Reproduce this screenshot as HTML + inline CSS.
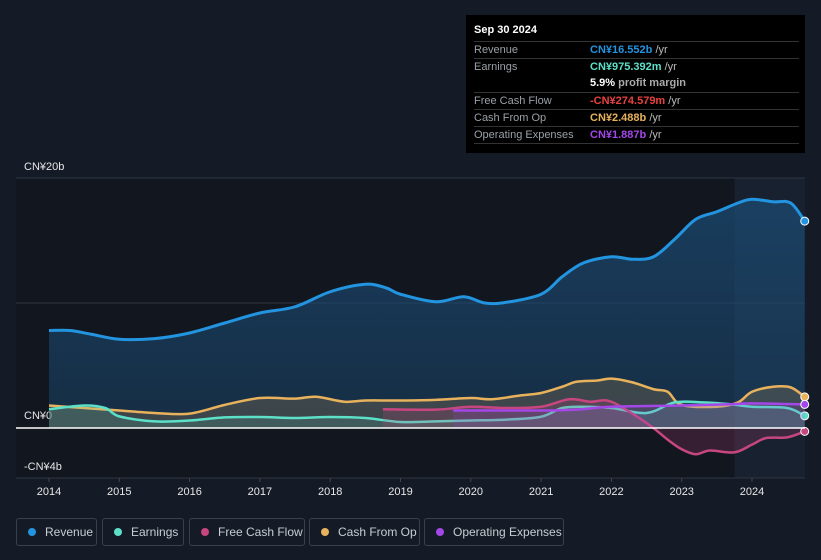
<!DOCTYPE html>
<html><head><meta charset="utf-8">
<style>
body{margin:0;background:#151b26;width:821px;height:560px;overflow:hidden;font-family:"Liberation Sans",sans-serif;}
#wrap{position:relative;width:821px;height:560px;}
.tip{position:absolute;left:466px;top:15px;width:339px;height:138px;background:#000;color:#ccc;font-size:11px;}
.tip .row{position:absolute;left:8px;right:6px;height:17px;border-top:1px solid #333;}
.tip .l{position:absolute;left:0;top:2px;color:#9aa0a6;}
.tip .v{position:absolute;left:116px;top:2px;font-weight:bold;}
.tip .u{color:#bbb;font-weight:normal;}
.leg{position:absolute;top:518px;height:28px;border:1px solid #3a404b;border-radius:3px;color:#c8ccd2;font-size:12px;box-sizing:border-box;line-height:26px;}
.leg i{position:absolute;left:11px;top:9px;width:8px;height:8px;border-radius:50%;}
.leg span{position:absolute;left:28px;}
</style></head><body><div id="wrap">
<svg id="chart" width="821" height="500" style="position:absolute;left:0;top:0"></svg>
<div class="tip">
<div style="position:absolute;left:8px;top:9px;color:#fff;font-weight:bold;font-size:11px">Sep 30 2024</div>
<div class="row" style="top:26px"><span class="l">Revenue</span><span class="v" style="color:#2394df">CN¥16.552b <span class="u">/yr</span></span></div>
<div class="row" style="top:43px"><span class="l">Earnings</span><span class="v" style="color:#5ce0c8">CN¥975.392m <span class="u">/yr</span></span></div>
<div class="row" style="top:60px;border-top:none"><span class="v" style="color:#fff">5.9% <span class="u" style="font-weight:bold;color:#aaa">profit margin</span></span></div>
<div class="row" style="top:77px"><span class="l">Free Cash Flow</span><span class="v" style="color:#e8423f">-CN¥274.579m <span class="u">/yr</span></span></div>
<div class="row" style="top:94px"><span class="l">Cash From Op</span><span class="v" style="color:#e8b25c">CN¥2.488b <span class="u">/yr</span></span></div>
<div class="row" style="top:111px"><span class="l">Operating Expenses</span><span class="v" style="color:#a447e8">CN¥1.887b <span class="u">/yr</span></span></div>
<div class="row" style="top:128px;height:0"></div>
</div>
<div class="leg" style="left:16px;width:81px"><i style="background:#2394df"></i><span>Revenue</span></div>
<div class="leg" style="left:102px;width:82px"><i style="background:#5ce0c8"></i><span>Earnings</span></div>
<div class="leg" style="left:189px;width:116px"><i style="background:#c84680"></i><span>Free Cash Flow</span></div>
<div class="leg" style="left:309px;width:111px"><i style="background:#e8b25c"></i><span>Cash From Op</span></div>
<div class="leg" style="left:424px;width:140px"><i style="background:#a447e8"></i><span>Operating Expenses</span></div>
</div>
<script>
const revT=[2014,2014.3,2014.6,2015,2015.5,2016,2016.5,2017,2017.5,2018,2018.5,2018.8,2019,2019.5,2019.9,2020.2,2020.5,2021,2021.3,2021.6,2022,2022.3,2022.6,2022.9,2023.2,2023.5,2023.8,2024,2024.3,2024.55,2024.75];
const revV=[7.8,7.8,7.5,7.1,7.15,7.6,8.4,9.2,9.7,10.9,11.5,11.2,10.7,10.1,10.5,10.0,10.05,10.7,12.1,13.2,13.7,13.5,13.7,15.1,16.7,17.3,18.0,18.3,18.1,18.0,16.55];
const earT=[2014,2014.5,2014.8,2015,2015.5,2016,2016.5,2017,2017.5,2018,2018.5,2019,2019.5,2020,2020.5,2021,2021.3,2021.6,2022,2022.5,2022.9,2023.3,2023.7,2024,2024.5,2024.75];
const earV=[1.5,1.8,1.6,0.93,0.53,0.6,0.85,0.88,0.8,0.88,0.8,0.48,0.53,0.6,0.67,0.9,1.6,1.7,1.6,1.2,2.05,2.05,1.9,1.7,1.6,0.975];
const fcfT=[2018.75,2019.5,2020,2020.5,2021,2021.4,2021.7,2022,2022.5,2022.8,2023.0,2023.2,2023.4,2023.75,2024.0,2024.2,2024.5,2024.75];
const fcfV=[1.5,1.47,1.7,1.6,1.7,2.3,2.1,2.1,0.4,-0.93,-1.7,-2.1,-1.8,-1.95,-1.33,-0.8,-0.75,-0.27];
const cfoT=[2014,2014.5,2015,2015.5,2016,2016.5,2017,2017.5,2017.8,2018.2,2018.5,2019,2019.5,2020,2020.3,2020.7,2021,2021.3,2021.5,2021.8,2022,2022.3,2022.6,2022.8,2023,2023.5,2023.8,2024,2024.3,2024.55,2024.75];
const cfoV=[1.8,1.6,1.4,1.2,1.15,1.85,2.4,2.35,2.5,2.1,2.2,2.2,2.25,2.4,2.3,2.6,2.8,3.3,3.7,3.8,3.95,3.65,3.1,2.9,1.85,1.7,2.05,2.9,3.3,3.25,2.488];
const opxT=[2019.75,2020.5,2021,2021.5,2022,2023,2023.7,2024,2024.75];
const opxV=[1.4,1.4,1.4,1.47,1.7,1.8,1.9,1.97,1.887];
const yTicks=[20,0,-4];
const yLabels=["CN¥20b","CN¥0","-CN¥4b"];
const xYears=[2014,2015,2016,2017,2018,2019,2020,2021,2022,2023,2024];

const NS="http://www.w3.org/2000/svg";
const svg=document.getElementById('chart');
const X=t=>49+(t-2014)*70.3;
const Y=v=>428-v*12.5;
function mk(tag,at,parent){const e=document.createElementNS(NS,tag);for(const k in at)e.setAttribute(k,at[k]);(parent||svg).appendChild(e);return e;}
const defs=mk('defs',{});
defs.innerHTML='<linearGradient id="gr" x1="0" y1="0" x2="0" y2="1"><stop offset="0" stop-color="#1b4a72" stop-opacity="0.75"/><stop offset="1" stop-color="#1b4a72" stop-opacity="0.45"/></linearGradient>';
const bg=mk('rect',{x:16,y:178,width:789,height:300,fill:'#12161f'});

const hl=mk('rect',{x:X(2023.75),y:178,width:805-X(2023.75),height:300,fill:'#1a2a3a',opacity:0.6});

[20,10].forEach(v=>{const g=mk('line',{x1:16,x2:805,y1:Y(v),y2:Y(v),stroke:'#2e3542','stroke-width':1});});
const bl=mk('line',{x1:16,x2:805,y1:Y(-4),y2:Y(-4),stroke:'#2e3542'});
const yPos={20:170,0:419,"-4":470};
yTicks.forEach((v,i)=>{const t=mk('text',{x:24,y:yPos[v],fill:'#e6e6e6','font-size':11,'font-family':'Liberation Sans'});t.textContent=yLabels[i];});
xYears.forEach(y=>{const t=mk('text',{x:X(y),y:495,fill:'#e6e6e6','font-size':11,'text-anchor':'middle','font-family':'Liberation Sans'});t.textContent=y;
const tk=mk('line',{x1:X(y),x2:X(y),y1:478,y2:482,stroke:'#444'});});
function path(T,V){
  const p=T.map((t,i)=>[X(t),Y(V[i])]);
  let d='M'+p[0][0]+','+p[0][1];
  for(let i=0;i<p.length-1;i++){
    const p0=p[Math.max(0,i-1)],p1=p[i],p2=p[i+1],p3=p[Math.min(p.length-1,i+2)];
    const c1=[p1[0]+(p2[0]-p0[0])/6,p1[1]+(p2[1]-p0[1])/6];
    const c2=[p2[0]-(p3[0]-p1[0])/6,p2[1]-(p3[1]-p1[1])/6];
    d+=' C'+c1[0]+','+c1[1]+' '+c2[0]+','+c2[1]+' '+p2[0]+','+p2[1];
  }
  return d;
}
function series(T,V,color,fill,name){
  const d=path(T,V);
  const a=mk('path',{d:d+' L'+X(T[T.length-1])+','+Y(0)+' L'+X(T[0])+','+Y(0)+' Z',fill:fill,opacity:1});
  
  const l=mk('path',{d:d,fill:'none',stroke:color,'stroke-width':name==='revenue'?3:2.5,'stroke-linejoin':'round'});
  
  const c=mk('circle',{cx:X(T[T.length-1]),cy:Y(V[V.length-1]),r:4,fill:color,stroke:'#fff','stroke-width':1});
  
}
series(revT,revV,'#2394df','url(#gr)','revenue');
series(cfoT,cfoV,'#e8b25c','rgba(232,178,92,0.18)','cash-from-op');
series(earT,earV,'#5ce0c8','rgba(92,224,200,0.15)','earnings');
series(fcfT,fcfV,'#c84680','rgba(200,70,128,0.2)','free-cash-flow');
series(opxT,opxV,'#a447e8','rgba(164,71,232,0.15)','operating-expenses');
const z=mk('line',{x1:16,x2:805,y1:Y(0),y2:Y(0),stroke:'#fff','stroke-width':1.5});

</script>
</body></html>
